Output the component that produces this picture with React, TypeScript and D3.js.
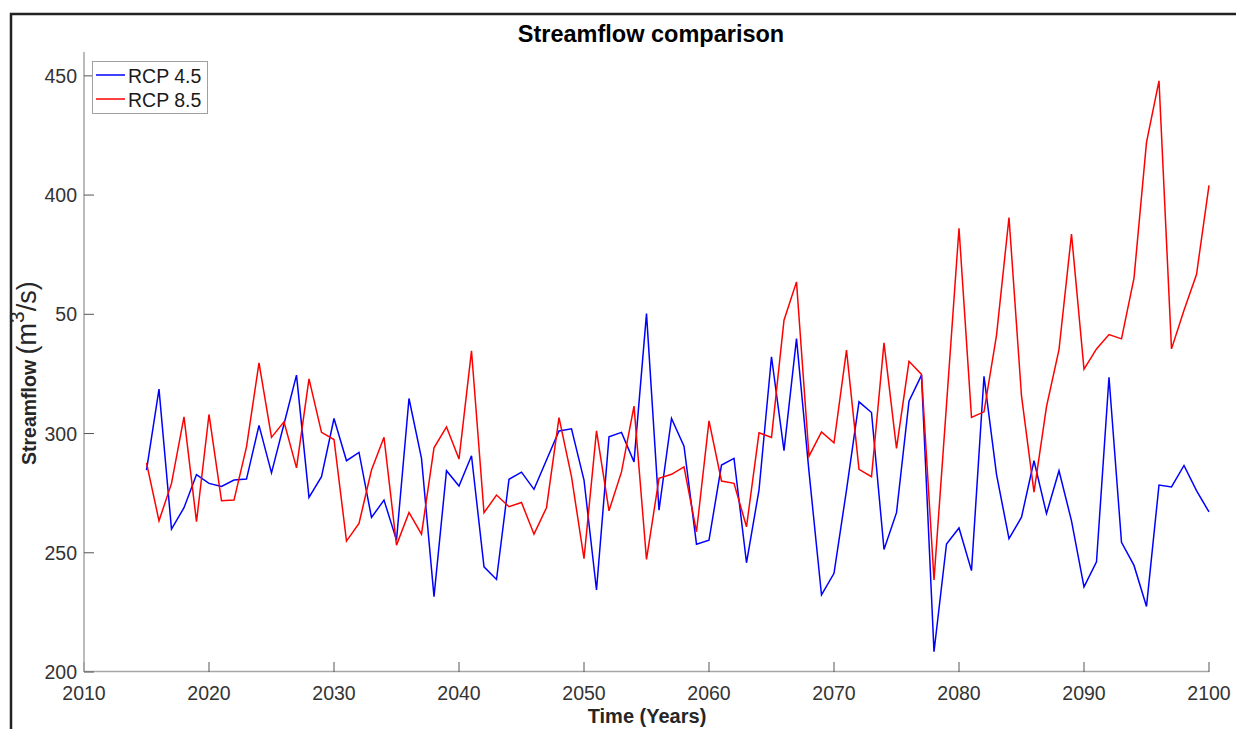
import React from "react";
import * as d3 from "d3";

const years = [
  2015, 2016, 2017, 2018, 2019, 2020, 2021, 2022, 2023, 2024, 2025, 2026, 2027, 2028, 2029,
  2030, 2031, 2032, 2033, 2034, 2035, 2036, 2037, 2038, 2039, 2040, 2041, 2042, 2043, 2044,
  2045, 2046, 2047, 2048, 2049, 2050, 2051, 2052, 2053, 2054, 2055, 2056, 2057, 2058, 2059,
  2060, 2061, 2062, 2063, 2064, 2065, 2066, 2067, 2068, 2069, 2070, 2071, 2072, 2073, 2074,
  2075, 2076, 2077, 2078, 2079, 2080, 2081, 2082, 2083, 2084, 2085, 2086, 2087, 2088, 2089,
  2090, 2091, 2092, 2093, 2094, 2095, 2096, 2097, 2098, 2099, 2100,
];

const rcp45 = [
  284.7, 318.6, 259.9, 268.9, 282.8, 279.1, 277.8, 280.5, 280.9, 303.4, 283.5, 304.0, 324.5, 273.2, 281.9,
  306.3, 288.6, 292.1, 264.8, 272.1, 255.3, 314.7, 289.6, 231.6, 284.4, 278.0, 290.7, 244.1, 238.8, 280.8,
  283.8, 276.6, 288.9, 301.1, 302.0, 280.5, 234.4, 298.6, 300.5, 288.1, 350.3, 267.9, 306.3, 294.7, 253.6,
  255.3, 286.8, 289.6, 245.8, 276.3, 332.2, 292.8, 339.8, 284.0, 232.3, 241.4, 276.3, 313.3, 308.8, 251.4,
  266.8, 313.6, 324.5, 208.5, 253.7, 260.4, 242.5, 324.0, 282.9, 255.9, 264.9, 288.6, 266.4, 284.4, 263.4,
  235.7, 246.2, 323.6, 254.4, 244.7, 227.5, 278.4, 277.6, 286.6, 276.1, 267.1,
];

const rcp85 = [
  287.7, 263.4, 279.1, 307.0, 263.0, 308.0, 271.8, 272.1, 294.4, 329.6, 298.4, 304.9, 285.6, 322.9, 300.5,
  297.5, 254.9, 262.3, 284.7, 298.4, 253.2, 266.9, 257.8, 294.0, 302.8, 289.3, 334.7, 266.8, 274.2, 269.3,
  271.1, 257.8, 268.9, 306.7, 281.9, 247.5, 301.1, 267.6, 283.9, 311.5, 247.2, 281.2, 282.9, 286.0, 258.8,
  305.3, 280.1, 279.1, 260.9, 300.3, 298.4, 347.5, 363.6, 290.5, 300.7, 296.1, 335.0, 285.0, 281.9, 338.0,
  293.8, 330.3, 324.8, 238.6, 312.0, 386.1, 306.8, 309.1, 341.2, 390.6, 315.8, 275.4, 311.3, 335.2, 383.6,
  327.0, 335.5, 341.5, 339.7, 365.2, 422.1, 447.9, 335.5, 351.7, 366.7, 404.1,
];

const xTicks = [2010, 2020, 2030, 2040, 2050, 2060, 2070, 2080, 2090, 2100];
const yTicks = [200, 250, 300, 350, 400, 450];
const yTickLabels = ["200", "250", "300", "50", "400", "450"];

const seriesNames = ["RCP 4.5", "RCP 8.5"];
const seriesColors = ["#0000ff", "#ff0000"];

const FONT = "'Liberation Sans', Arial, Helvetica, sans-serif";

export default function App() {
  const W = 1236;
  const H = 729;
  const left = 84;
  const right = 1209;
  const top = 52;
  const bottom = 672;

  const x = d3.scaleLinear().domain([2010, 2100]).range([left, right]);
  const y = d3.scaleLinear().domain([200, 460]).range([bottom, top]);

  const line = d3
    .line<number>()
    .x((_, i) => x(years[i]))
    .y((d) => y(d));

  const series = [rcp45, rcp85];
  const axisColor = "#a6a6a6";
  const tickColor = "#555555";
  const textColor = "#333333";

  return (
    <svg
      width={W}
      height={H}
      style={{ position: "absolute", left: 0, top: 0, background: "#fff" }}
      fontFamily={FONT}
    >
      <rect x={0} y={0} width={W} height={H} fill="#fff" />
      {/* outer frame */}
      <path d={`M11,${H} V14 H${W}`} fill="none" stroke="#222" strokeWidth={2.5} />

      {/* series */}
      {series.map((s, k) => (
        <path
          key={k}
          d={line(s) || ""}
          fill="none"
          stroke={seriesColors[k]}
          strokeWidth={1.5}
          strokeLinejoin="miter"
        />
      ))}

      {/* x axis */}
      <line x1={left} x2={right} y1={bottom - 0.5} y2={bottom - 0.5} stroke={axisColor} strokeWidth={1.5} />
      {xTicks.map((t) => (
        <g key={t}>
          <line x1={x(t)} x2={x(t)} y1={bottom} y2={bottom - 10} stroke={tickColor} strokeWidth={1} />
          <text x={x(t)} y={bottom + 28} textAnchor="middle" fontSize={19.5} fill={textColor}>
            {t}
          </text>
        </g>
      ))}

      {/* y axis */}
      <line x1={left} x2={left} y1={top} y2={bottom} stroke={axisColor} strokeWidth={1.5} />
      {yTicks.map((t, i) => (
        <g key={t}>
          <line x1={left} x2={left + 10} y1={y(t)} y2={y(t)} stroke={tickColor} strokeWidth={1} />
          <text x={left - 7} y={y(t)} dy="0.36em" textAnchor="end" fontSize={19.5} fill={textColor}>
            {yTickLabels[i]}
          </text>
        </g>
      ))}

      {/* title */}
      <text x={651} y={42} textAnchor="middle" fontSize={23.5} fontWeight="bold" fill="#000">
        Streamflow comparison
      </text>

      {/* x label */}
      <text x={647} y={723} textAnchor="middle" fontSize={20} fontWeight="bold" fill="#262626">
        Time (Years)
      </text>

      {/* y label */}
      <text
        transform={`translate(36, 465) rotate(-90)`}
        textAnchor="start"
        fontSize={19.5}
        fontWeight="bold"
        fill="#262626"
      >
        Streamflow{" "}
        <tspan fontWeight="normal" fontSize={27}>(m</tspan>
        <tspan fontWeight="normal" fontSize={21} dy={-12}>3</tspan>
        <tspan fontWeight="normal" fontSize={27} dy={12}>/s)</tspan>
      </text>

      {/* legend */}
      <rect x={92.5} y={61.5} width={115} height={52} fill="#fff" stroke="#a0a0a0" strokeWidth={1} />
      {seriesNames.map((n, i) => (
        <g key={n}>
          <line x1={96} x2={125} y1={75 + i * 24} y2={75 + i * 24} stroke={seriesColors[i]} strokeWidth={1.5} />
          <text x={128} y={82.5 + i * 24.5} fontSize={19.5} fill="#1a1a1a">
            {n}
          </text>
        </g>
      ))}
    </svg>
  );
}
